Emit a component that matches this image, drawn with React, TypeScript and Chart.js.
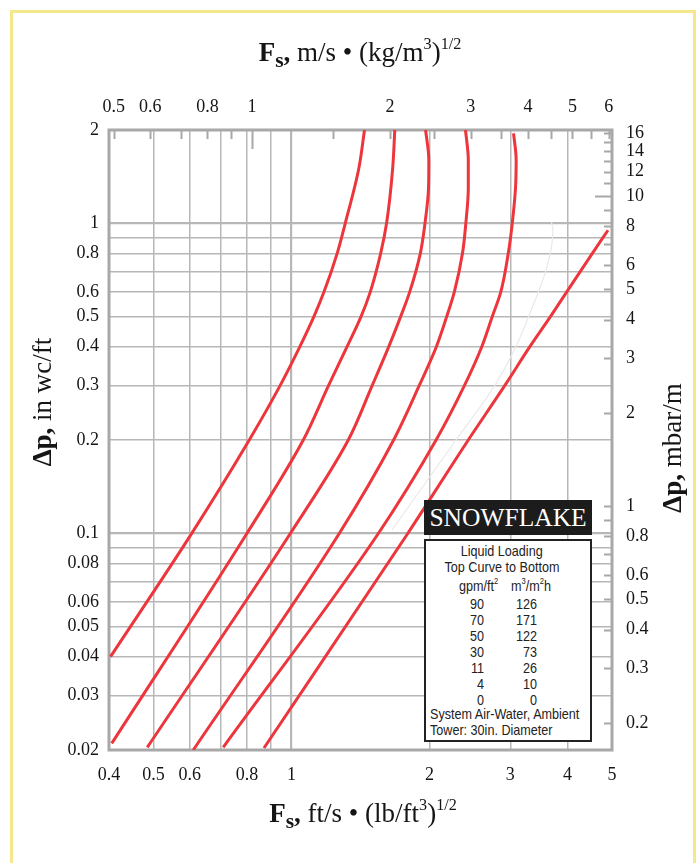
import React, { useEffect, useRef } from 'react';
import { Chart, registerables } from 'chart.js';

Chart.register(...registerables);

// ---- unit conversions for the secondary axes ----
const FS_FT_TO_SI = 1.2199; // ft/s·(lb/ft3)^0.5 -> m/s·(kg/m3)^0.5
const DP_INWC_TO_MBAR = 8.172; // in wc/ft -> mbar/m

const X_MIN = 0.4;
const X_MAX = 5;
const Y_MIN = 0.02;
const Y_MAX = 2;

// ---- ticks ----
const xTickValues = [0.4, 0.5, 0.6, 0.7, 0.8, 0.9, 1, 2, 3, 4, 5];
const xTickLabels = ['0.4', '0.5', '0.6', '', '0.8', '', '1', '2', '3', '4', '5'];
const yTickValues = [0.02, 0.03, 0.04, 0.05, 0.06, 0.07, 0.08, 0.09, 0.1, 0.2, 0.3, 0.4, 0.5, 0.6, 0.7, 0.8, 0.9, 1, 2];
const yTickLabels = ['0.02', '0.03', '0.04', '0.05', '0.06', '', '0.08', '', '0.1', '0.2', '0.3', '0.4', '0.5', '0.6', '', '0.8', '', '1', '2'];
const topTickValues = [0.5, 0.6, 0.7, 0.8, 0.9, 1, 1.5, 2, 2.5, 3, 3.5, 4, 4.5, 5, 5.5, 6];
const topTickLabels = ['0.5', '0.6', '', '0.8', '', '1', '', '2', '', '3', '', '4', '', '5', '', '6'];
const rightTickValues = [0.2, 0.3, 0.4, 0.5, 0.6, 0.7, 0.8, 0.9, 1, 2, 3, 4, 5, 6, 7, 8, 9, 10, 11, 12, 13, 14, 15, 16];
const rightTickLabels = ['0.2', '0.3', '0.4', '0.5', '0.6', '', '0.8', '', '1', '2', '3', '4', '5', '6', '', '8', '', '10', '', '12', '', '14', '', '16'];

// ---- legend table ----
const loadGpm = ['90', '70', '50', '30', '11', '4', '0'];
const loadSi = ['126', '171', '122', '73', '26', '10', '0'];

// ---- curves (Fs ft/s·(lb/ft3)^0.5 , Δp in wc/ft), bottom to top ----
const c90X = [0.403, 0.606, 0.809, 0.945, 1.043, 1.119, 1.177, 1.258, 1.31, 1.402, 1.443];
const c90Y = [0.04, 0.1, 0.2, 0.3, 0.4, 0.5, 0.6, 0.8, 1.0, 1.5, 2.0];
const c70X = [0.4055, 0.798, 1.061, 1.205, 1.322, 1.418, 1.485, 1.565, 1.612, 1.662, 1.68];
const c70Y = [0.021, 0.0995, 0.2, 0.3, 0.4, 0.5, 0.6, 0.8, 1.0, 1.5, 2.0];
const c50X = [0.4848, 0.9925, 1.33, 1.5, 1.63, 1.73, 1.81, 1.91, 1.955, 1.99, 1.993, 1.961];
const c50Y = [0.0204, 0.0995, 0.2, 0.3, 0.4, 0.5, 0.6, 0.8, 1.0, 1.3, 1.6, 2.0];
const c30X = [0.6107, 1.269, 1.67, 1.9, 2.07, 2.18, 2.265, 2.36, 2.4, 2.43, 2.43, 2.396];
const c30Y = [0.02, 0.0995, 0.2, 0.3, 0.4, 0.5, 0.6, 0.8, 1.0, 1.3, 1.6, 2.0];
const c11X = [0.7098, 1.544, 2.067, 2.384, 2.6, 2.74, 2.86, 2.97, 3.03, 3.08, 3.09, 3.05];
const c11Y = [0.0204, 0.0995, 0.2, 0.3, 0.4, 0.5, 0.6, 0.8, 1.0, 1.3, 1.6, 1.95];
const c4X = [1.656, 2.284, 2.806, 3.261, 3.716, 3.69];
const c4Y = [0.1025, 0.2, 0.3076, 0.484, 0.951, 1.01];
const c0X = [0.871, 1.79, 2.43, 2.92, 3.31, 3.67, 3.98, 4.53, 4.9];
const c0Y = [0.0203, 0.0995, 0.2, 0.3, 0.4, 0.5, 0.6, 0.8, 0.95];

const SERIF = '"Liberation Serif", "Times New Roman", serif';
const SANS = '"Liberation Sans", Arial, sans-serif';
const GRID = '#b7b7b7';
const BORDER = '#a8a8a8';
const RED = 'rgb(236,54,60)';
const TEXT = '#151515';
const NARROW_SCALE = 0.84;
const TITLE_SIZE = 27;

function labelFor(v: number, vals: number[], labels: string[]) {
  const i = vals.findIndex((t) => Math.abs(t - v) / t < 1e-6);
  return i >= 0 ? labels[i] : '';
}

const framePlugin = {
  id: 'frame',
  beforeDatasetsDraw(chart: any) {
    const { ctx, chartArea: a, scales } = chart;
    ctx.save();
    ctx.strokeStyle = BORDER;
    ctx.lineWidth = 2;
    ctx.beginPath();
    topTickValues.forEach((v) => {
      const x = Math.round(scales.x2.getPixelForValue(v)) + 0.5;
      const len = v === 1 ? 19 : 9;
      ctx.moveTo(x, a.top);
      ctx.lineTo(x, a.top + len);
    });
    rightTickValues.forEach((v) => {
      const y = Math.round(scales.y2.getPixelForValue(v)) + 0.5;
      const len = v === 10 ? 17 : 8;
      ctx.moveTo(a.right - len, y);
      ctx.lineTo(a.right, y);
    });
    ctx.stroke();
    ctx.lineWidth = 3;
    ctx.strokeRect(a.left, a.top, a.right - a.left, a.bottom - a.top);
    ctx.restore();
  },
};

const supStyle: React.CSSProperties = { fontSize: '0.6em', verticalAlign: '0.75em', lineHeight: 0 };
const subStyle: React.CSSProperties = { fontSize: '0.8em', verticalAlign: '-0.3em', lineHeight: 0 };

function FsTitle({ a, b }: { a: string; b: string }) {
  return (
    <>
      <b>
        F<span style={subStyle}>s</span>,
      </b>{' '}
      {a} • ({b}
      <span style={supStyle}>3</span>)<span style={supStyle}>1/2</span>
    </>
  );
}

const titleBase: React.CSSProperties = {
  position: 'absolute',
  fontFamily: SERIF,
  fontSize: TITLE_SIZE,
  lineHeight: '30px',
  color: TEXT,
  whiteSpace: 'nowrap',
};

export default function App() {
  const ref = useRef<HTMLCanvasElement>(null);

  useEffect(() => {
    const canvas = ref.current;
    if (!canvas) return;
    const mk = (xs: number[], ys: number[]) => xs.map((x, i) => ({ x, y: ys[i] }));
    const series = [
      { label: '4', xs: c4X, ys: c4Y, color: '#e9e9e9', width: 1.2 },
      { label: '90', xs: c90X, ys: c90Y, color: RED, width: 3 },
      { label: '70', xs: c70X, ys: c70Y, color: RED, width: 3 },
      { label: '50', xs: c50X, ys: c50Y, color: RED, width: 3 },
      { label: '30', xs: c30X, ys: c30Y, color: RED, width: 3 },
      { label: '11', xs: c11X, ys: c11Y, color: RED, width: 3 },
      { label: '0', xs: c0X, ys: c0Y, color: RED, width: 3 },
    ];
    const tickFont = { family: SERIF, size: 18 };
    const gridWidth = (c: any) => {
      const v = c.tick ? c.tick.value : 0;
      return Math.abs(v - 1) < 1e-6 || Math.abs(v - 0.1) < 1e-6 ? 2.2 : 1.5;
    };
    const chart = new Chart(canvas, {
      type: 'line',
      data: {
        datasets: series.map((s) => ({
          label: s.label,
          data: mk(s.xs, s.ys),
          xAxisID: 'x',
          yAxisID: 'y',
          indexAxis: 'y',
          borderColor: s.color,
          borderWidth: s.width,
          pointRadius: 0,
          cubicInterpolationMode: 'monotone',
          fill: false,
        })),
      },
      options: {
        animation: false,
        responsive: false,
        maintainAspectRatio: false,
        indexAxis: 'y',
        layout: { padding: 0 },
        plugins: { legend: { display: false }, tooltip: { enabled: false } },
        scales: {
          x: {
            type: 'logarithmic',
            position: 'bottom',
            min: X_MIN,
            max: X_MAX,
            afterBuildTicks: (s: any) => {
              s.ticks = xTickValues.map((v) => ({ value: v }));
            },
            afterFit: (s: any) => {
              s.height = 113;
            },
            ticks: {
              autoSkip: false,
              maxRotation: 0,
              padding: 14,
              color: TEXT,
              font: tickFont,
              callback: (v: any) => labelFor(Number(v), xTickValues, xTickLabels),
            },
            grid: { drawTicks: false, color: GRID, lineWidth: gridWidth },
            border: { display: false },
          },
          y: {
            type: 'logarithmic',
            position: 'left',
            min: Y_MIN,
            max: Y_MAX,
            afterBuildTicks: (s: any) => {
              s.ticks = yTickValues.map((v) => ({ value: v }));
            },
            afterFit: (s: any) => {
              s.width = 109;
            },
            ticks: {
              autoSkip: false,
              padding: 10,
              color: TEXT,
              font: tickFont,
              callback: (v: any) => labelFor(Number(v), yTickValues, yTickLabels),
            },
            grid: {
              drawTicks: false,
              color: (c: any) => (c.tick && c.tick.value > 1.01 ? 'rgba(0,0,0,0)' : GRID),
              lineWidth: gridWidth,
            },
            border: { display: false },
          },
          x2: {
            type: 'logarithmic',
            position: 'top',
            min: X_MIN * FS_FT_TO_SI,
            max: X_MAX * FS_FT_TO_SI,
            afterBuildTicks: (s: any) => {
              s.ticks = topTickValues.map((v) => ({ value: v }));
            },
            afterFit: (s: any) => {
              s.height = 130;
            },
            ticks: {
              autoSkip: false,
              maxRotation: 0,
              padding: 12,
              color: TEXT,
              font: tickFont,
              callback: (v: any) => labelFor(Number(v), topTickValues, topTickLabels),
            },
            grid: { drawTicks: false, drawOnChartArea: false },
            border: { display: false },
          },
          y2: {
            type: 'logarithmic',
            position: 'right',
            min: Y_MIN * DP_INWC_TO_MBAR,
            max: Y_MAX * DP_INWC_TO_MBAR,
            afterBuildTicks: (s: any) => {
              s.ticks = rightTickValues.map((v) => ({ value: v }));
            },
            afterFit: (s: any) => {
              s.width = 87;
            },
            ticks: {
              autoSkip: false,
              padding: 14,
              color: TEXT,
              font: tickFont,
              callback: (v: any) => labelFor(Number(v), rightTickValues, rightTickLabels),
            },
            grid: { drawTicks: false, drawOnChartArea: false },
            border: { display: false },
          },
        },
      } as any,
      plugins: [framePlugin],
    });
    return () => chart.destroy();
  }, []);

  // legend rows: page-y centre -> top inside the (bordered) legend box
  const rowTop = (yc: number) => yc - 539 - 2 - 8;
  // page-x -> x inside the horizontally squeezed text layer
  const ix = (px: number) => (px - 426) / NARROW_SCALE;

  return (
    <div
      style={{
        position: 'absolute',
        left: 0,
        top: 0,
        width: 699,
        height: 863,
        overflow: 'hidden',
        background: '#fff',
      }}
    >
      <canvas ref={ref} width={699} height={863} style={{ position: 'absolute', left: 0, top: 0, display: 'block' }} />
      {/* yellow frame */}
      <div
        style={{
          position: 'absolute',
          left: 10,
          top: 10,
          width: 680,
          height: 900,
          border: '3px solid #f4e78c',
          borderBottom: 'none',
          pointerEvents: 'none',
        }}
      />
      {/* top axis title */}
      <div style={{ ...titleBase, left: 0, width: 720, top: 37, textAlign: 'center' }}>
        <FsTitle a="m/s" b="kg/m" />
      </div>
      {/* bottom axis title */}
      <div style={{ ...titleBase, left: 0, width: 726, top: 798, textAlign: 'center' }}>
        <FsTitle a="ft/s" b="lb/ft" />
      </div>
      {/* left axis title */}
      <div style={{ ...titleBase, left: 42, top: 402, transform: 'translate(-50%, -50%) rotate(-90deg)' }}>
        <b>Δp,</b> in wc/ft
      </div>
      {/* right axis title */}
      <div style={{ ...titleBase, left: 672, top: 448, transform: 'translate(-50%, -50%) rotate(-90deg)' }}>
        <b>Δp,</b> mbar/m
      </div>
      {/* SNOWFLAKE label */}
      <div
        style={{
          position: 'absolute',
          left: 424,
          top: 500,
          width: 168,
          height: 35,
          background: '#1c1c1c',
          color: '#fff',
          fontFamily: SERIF,
          fontSize: 25.5,
          lineHeight: '36px',
          textAlign: 'center',
        }}
      >
        SNOWFLAKE
      </div>
      {/* legend box */}
      <div
        style={{
          position: 'absolute',
          left: 424,
          top: 539,
          width: 168,
          height: 203,
          boxSizing: 'border-box',
          border: '2px solid #222',
          background: '#fff',
          overflow: 'hidden',
        }}
      >
        <div
          style={{
            position: 'absolute',
            left: 0,
            top: 0,
            width: 164 / NARROW_SCALE,
            height: 199,
            transform: `scaleX(${NARROW_SCALE})`,
            transformOrigin: 'left top',
            fontFamily: SANS,
            fontSize: 15,
            lineHeight: '16px',
            color: '#222',
            whiteSpace: 'nowrap',
          }}
        >
          <div style={{ position: 'absolute', left: 0, width: ix(501.7) * 2, top: rowTop(551), textAlign: 'center' }}>
            Liquid Loading
          </div>
          <div style={{ position: 'absolute', left: 0, width: ix(502) * 2, top: rowTop(567), textAlign: 'center' }}>
            Top Curve to Bottom
          </div>
          <div style={{ position: 'absolute', left: ix(478.5) - 50, width: 100, top: rowTop(586), textAlign: 'center' }}>
            gpm/ft<span style={supStyle}>2</span>
          </div>
          <div style={{ position: 'absolute', left: ix(531) - 50, width: 100, top: rowTop(586), textAlign: 'center' }}>
            m<span style={supStyle}>3</span>/m<span style={supStyle}>2</span>h
          </div>
          {loadGpm.map((g, i) => (
            <React.Fragment key={i}>
              <div style={{ position: 'absolute', left: 0, width: ix(484), top: rowTop(603.5 + i * 16), textAlign: 'right' }}>
                {g}
              </div>
              <div style={{ position: 'absolute', left: 0, width: ix(537), top: rowTop(603.5 + i * 16), textAlign: 'right' }}>
                {loadSi[i]}
              </div>
            </React.Fragment>
          ))}
          <div style={{ position: 'absolute', left: ix(430), top: rowTop(714) }}>System Air-Water, Ambient</div>
          <div style={{ position: 'absolute', left: ix(430), top: rowTop(729.5) }}>Tower: 30in. Diameter</div>
        </div>
      </div>
    </div>
  );
}
